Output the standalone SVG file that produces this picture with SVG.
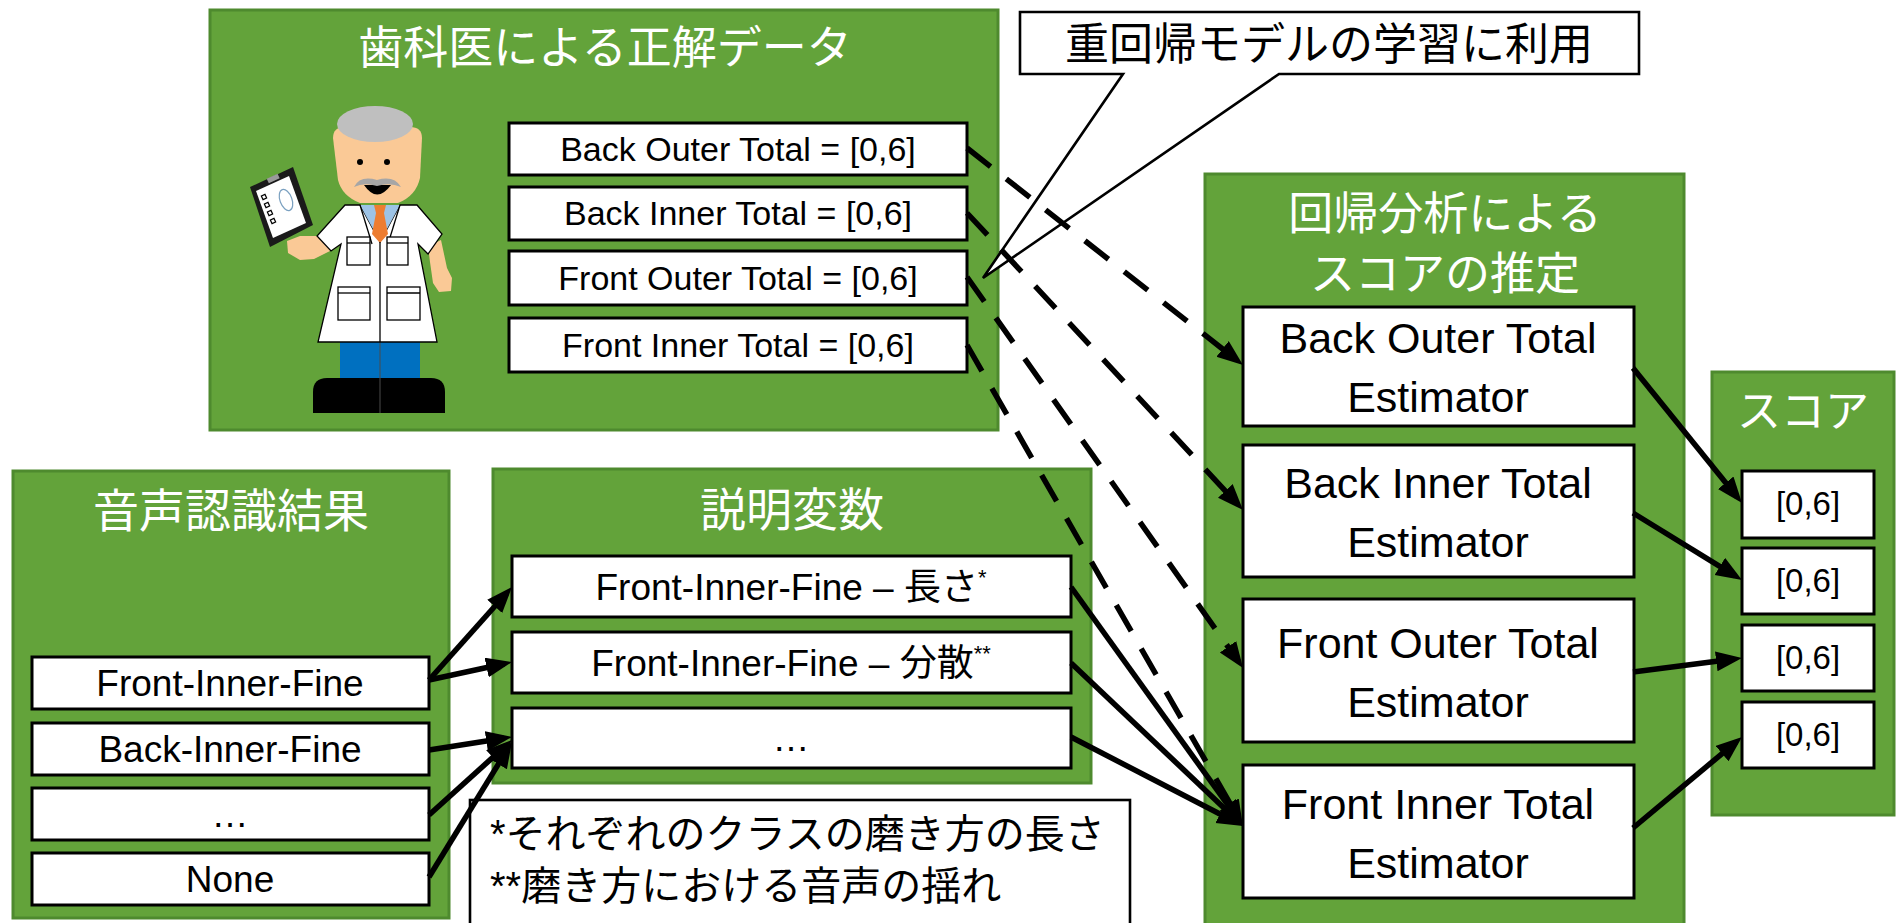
<svg xmlns="http://www.w3.org/2000/svg" width="1897" height="923" viewBox="0 0 1897 923">
  <style>
    .grp { fill: #63A33A; stroke: #4E8A2E; stroke-width: 3; }
    .box { fill: #ffffff; stroke: #000000; stroke-width: 3; }
    .ttl { font-family: 'Noto Sans CJK JP', sans-serif; fill: #ffffff; text-anchor: middle; }
    .lbl { font-family: 'Liberation Sans', 'Noto Sans CJK JP', sans-serif; fill: #000000; text-anchor: middle; }
    .jp  { font-family: 'Liberation Sans', 'Noto Sans CJK JP', sans-serif; fill: #000000; }
    .sol { fill: none; stroke: #000000; stroke-width: 5.5; marker-end: url(#ah); }
    .dsh { fill: none; stroke: #000000; stroke-width: 5.5; stroke-dasharray: 30 20; marker-end: url(#ah); }
    .ink { stroke: #000000; stroke-width: 1.3; }
  </style>
  <defs>
    <marker id="ah" markerUnits="userSpaceOnUse" viewBox="0 0 28 22" markerWidth="28" markerHeight="22" refX="18" refY="10" orient="auto">
      <path d="M0,0 L26,10 L0,20 Z" fill="#000000"/>
    </marker>
  </defs>

  <!-- ground truth from the dentist -->
  <g id="dentist-labels">
    <rect class="grp" x="210" y="10" width="788" height="420"/>
    <text class="ttl" x="605" y="64" font-size="45">歯科医による正解データ</text>

    <g id="doctor">
      <!-- tablet -->
      <polygon points="250,187 293,167 313,225 270,247" fill="#1a1a1a"/>
      <polygon points="256,191 289,176 306,223 273,238" fill="#ffffff"/>
      <rect x="267" y="176" width="12" height="5" fill="#9a9a9a" transform="rotate(-25 273 178)"/>
      <g fill="none" stroke="#000" stroke-width="1.2">
        <rect x="262" y="195" width="4" height="4" transform="rotate(-25 264 197)"/>
        <rect x="265" y="203" width="4" height="4" transform="rotate(-25 267 205)"/>
        <rect x="268" y="211" width="4" height="4" transform="rotate(-25 270 213)"/>
        <rect x="271" y="219" width="4" height="4" transform="rotate(-25 273 221)"/>
        <ellipse cx="286" cy="200" rx="6" ry="11" stroke="#7aa0c0" transform="rotate(-20 286 200)"/>
      </g>
      <!-- arms -->
      <path d="M319,236 L332,250 L314,259 L300,260 L288,253 L287,241 L300,236 Z" fill="#FAC996"/>
      <path d="M428,246 L441,240 L447,268 L452,278 L451,291 L439,292 L433,283 L430,262 Z" fill="#FAC996"/>
      <!-- shoes -->
      <path d="M313,413 L313,392 Q313,378 327,378 L431,378 Q445,378 445,392 L445,413 Z" fill="#000000"/>
      <!-- trousers -->
      <rect x="340" y="342" width="80" height="36" fill="#0070C0"/>
      <line x1="380" y1="342" x2="380" y2="413" stroke="#4a4a4a" stroke-width="1"/>
      <!-- coat -->
      <polygon class="ink" fill="#ffffff" points="345,205 360,205 380,242 400,205 417,205 442,234 428,254 418,244 437,342 318,342 341,244 331,251 317,236"/>
      <polygon points="360,205 400,205 380,242" fill="#9DC3E6"/>
      <polygon points="374,205 386,205 384,213 388,234 380,243 372,234 376,213" fill="#ED7D31"/>
      <line class="ink" x1="380" y1="242" x2="380" y2="342"/>
      <line class="ink" x1="360" y1="205" x2="372" y2="244"/>
      <line class="ink" x1="400" y1="205" x2="388" y2="244"/>
      <g class="ink" fill="#ffffff">
        <rect x="347" y="237" width="23" height="28"/>
        <rect x="387" y="237" width="21" height="28"/>
        <rect x="338" y="287" width="32" height="33"/>
        <rect x="387" y="287" width="33" height="33"/>
      </g>
      <g class="ink">
        <line x1="347" y1="243" x2="370" y2="243"/>
        <line x1="387" y1="243" x2="408" y2="243"/>
        <line x1="338" y1="293" x2="370" y2="293"/>
        <line x1="387" y1="293" x2="420" y2="293"/>
      </g>
      <!-- head -->
      <path d="M333,138 Q333,127 345,127 L410,127 Q422,127 422,138 L420,178 Q416,196 398,203 L360,203 Q342,196 338,180 Z" fill="#FAC996"/>
      <ellipse cx="375" cy="124" rx="38" ry="18" fill="#BFBFBF"/>
      <circle cx="360" cy="162" r="3" fill="#000000"/>
      <circle cx="387" cy="162" r="3" fill="#000000"/>
      <path d="M364,185 Q377,204 391,185 Z" fill="#000000"/>
      <path d="M354,187 Q360,175 377,180 Q394,175 401,187 Q390,182 377,186 Q364,182 354,187 Z" fill="#A6A6A6"/>
    </g>

    <rect class="box" x="509" y="123" width="458" height="52"/>
    <text class="lbl" x="738" y="161" font-size="34">Back Outer Total = [0,6]</text>
    <rect class="box" x="509" y="187" width="458" height="53"/>
    <text class="lbl" x="738" y="225" font-size="34">Back Inner Total = [0,6]</text>
    <rect class="box" x="509" y="251" width="458" height="54"/>
    <text class="lbl" x="738" y="290" font-size="34">Front Outer Total = [0,6]</text>
    <rect class="box" x="509" y="318" width="458" height="54"/>
    <text class="lbl" x="738" y="357" font-size="34">Front Inner Total = [0,6]</text>
  </g>

  <!-- callout -->
  <g id="callout">
    <polygon points="1020,12 1639,12 1639,74 1279,74 983,278 1123,74 1020,74" fill="#ffffff" stroke="#000000" stroke-width="2.6" stroke-linejoin="miter"/>
    <text class="jp" x="1329" y="60" font-size="44" text-anchor="middle">重回帰モデルの学習に利用</text>
  </g>

  <!-- speech recognition output -->
  <g id="speech-results">
    <rect class="grp" x="13" y="471" width="436" height="447"/>
    <text class="ttl" x="231" y="527" font-size="46">音声認識結果</text>
    <rect class="box" x="32" y="657" width="397" height="52"/>
    <text class="lbl" x="230" y="696" font-size="37">Front-Inner-Fine</text>
    <rect class="box" x="32" y="723" width="397" height="52"/>
    <text class="lbl" x="230" y="762" font-size="37">Back-Inner-Fine</text>
    <rect class="box" x="32" y="788" width="397" height="52"/>
    <text class="lbl" x="230" y="827" font-size="37">…</text>
    <rect class="box" x="32" y="853" width="397" height="52"/>
    <text class="lbl" x="230" y="892" font-size="37">None</text>
  </g>

  <!-- explanatory variables -->
  <g id="features">
    <rect class="grp" x="493" y="469" width="598" height="314"/>
    <text class="ttl" x="792" y="526" font-size="46">説明変数</text>
    <rect class="box" x="512" y="556" width="559" height="61"/>
    <text class="lbl" x="791" y="600" font-size="37">Front-Inner-Fine – 長さ<tspan font-size="22" dy="-15">*</tspan></text>
    <rect class="box" x="512" y="632" width="559" height="61"/>
    <text class="lbl" x="791" y="676" font-size="37">Front-Inner-Fine – 分散<tspan font-size="22" dy="-15">**</tspan></text>
    <rect class="box" x="512" y="708" width="559" height="60"/>
    <text class="lbl" x="791" y="751" font-size="37">…</text>
  </g>

  <!-- footnotes -->
  <g id="footnote">
    <rect x="470" y="800" width="660" height="135" fill="#ffffff" stroke="#000000" stroke-width="2.6"/>
    <text class="jp" x="490" y="848" font-size="40">*それぞれのクラスの磨き方の長さ</text>
    <text class="jp" x="490" y="900" font-size="40">**磨き方における音声の揺れ</text>
  </g>

  <!-- regression estimators -->
  <g id="estimators">
    <rect class="grp" x="1205" y="174" width="479" height="760"/>
    <text class="ttl" x="1445" y="230" font-size="45">回帰分析による</text>
    <text class="ttl" x="1445" y="290" font-size="45">スコアの推定</text>
    <rect class="box" x="1243" y="307" width="391" height="119"/>
    <text class="lbl" x="1438" y="353" font-size="43"><tspan x="1438">Back Outer Total</tspan><tspan x="1438" dy="59">Estimator</tspan></text>
    <rect class="box" x="1243" y="445" width="391" height="132"/>
    <text class="lbl" x="1438" y="498" font-size="43"><tspan x="1438">Back Inner Total</tspan><tspan x="1438" dy="59">Estimator</tspan></text>
    <rect class="box" x="1243" y="599" width="391" height="143"/>
    <text class="lbl" x="1438" y="658" font-size="43"><tspan x="1438">Front Outer Total</tspan><tspan x="1438" dy="59">Estimator</tspan></text>
    <rect class="box" x="1243" y="765" width="391" height="133"/>
    <text class="lbl" x="1438" y="819" font-size="43"><tspan x="1438">Front Inner Total</tspan><tspan x="1438" dy="59">Estimator</tspan></text>
  </g>

  <!-- scores -->
  <g id="scores">
    <rect class="grp" x="1712" y="372" width="182" height="443"/>
    <text class="ttl" x="1803" y="427" font-size="44">スコア</text>
    <rect class="box" x="1742" y="471" width="132" height="67"/>
    <text class="lbl" x="1808" y="515" font-size="33">[0,6]</text>
    <rect class="box" x="1742" y="548" width="132" height="66"/>
    <text class="lbl" x="1808" y="592" font-size="33">[0,6]</text>
    <rect class="box" x="1742" y="625" width="132" height="66"/>
    <text class="lbl" x="1808" y="669" font-size="33">[0,6]</text>
    <rect class="box" x="1742" y="702" width="132" height="66"/>
    <text class="lbl" x="1808" y="746" font-size="33">[0,6]</text>
  </g>

  <g id="connectors">
    <!-- speech results to features -->
    <line class="sol" x1="429" y1="680" x2="506.7" y2="593.0"/>
    <line class="sol" x1="429" y1="680" x2="504.2" y2="663.7"/>
    <line class="sol" x1="429" y1="750" x2="504.1" y2="738.2"/>
    <line class="sol" x1="429" y1="815" x2="506.1" y2="745.4"/>
    <line class="sol" x1="429" y1="877" x2="507.8" y2="748.8"/>
    <!-- features to front inner estimator -->
    <line class="sol" x1="1071" y1="587" x2="1238.3" y2="819.5"/>
    <line class="sol" x1="1071" y1="663" x2="1237.2" y2="820.5"/>
    <line class="sol" x1="1071" y1="737" x2="1235.9" y2="822.3"/>
    <!-- dentist labels to estimators (training) -->
    <line class="dsh" x1="967" y1="148" x2="1236.7" y2="360.1"/>
    <line class="dsh" x1="967" y1="213" x2="1237.6" y2="504.1"/>
    <line class="dsh" x1="967" y1="277" x2="1238.4" y2="661.5"/>
    <line class="dsh" x1="967" y1="345" x2="1239.0" y2="819.1"/>
    <!-- estimators to scores -->
    <line class="sol" x1="1633" y1="368" x2="1737.0" y2="496.8"/>
    <line class="sol" x1="1633" y1="513" x2="1735.2" y2="575.8"/>
    <line class="sol" x1="1633" y1="672" x2="1734.1" y2="659.0"/>
    <line class="sol" x1="1633" y1="828" x2="1735.9" y2="742.1"/>
  </g>
</svg>
